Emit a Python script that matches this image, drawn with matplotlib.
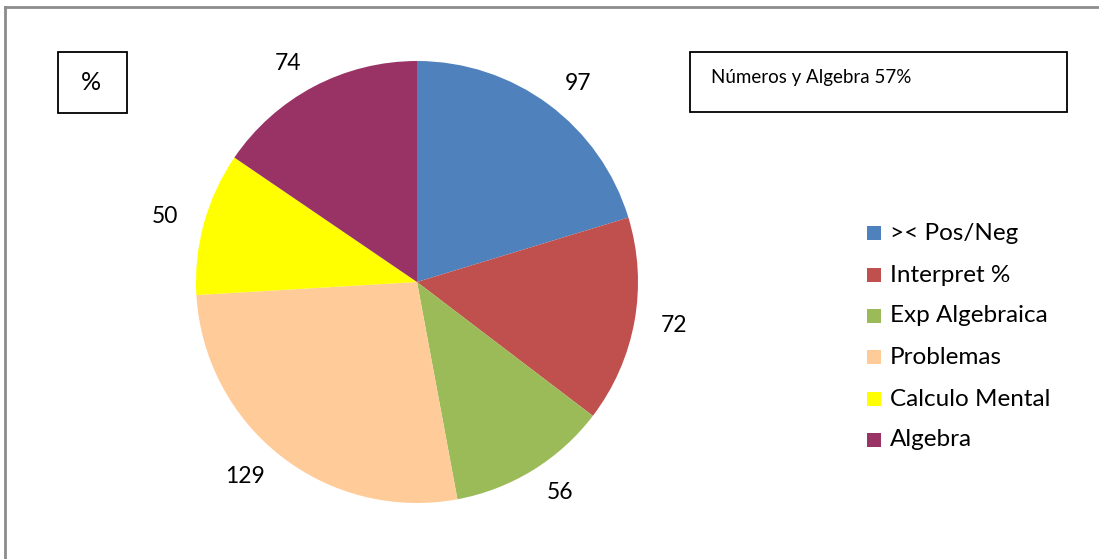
import matplotlib.pyplot as plt
from matplotlib.patches import Rectangle
from matplotlib.lines import Line2D

plt.rcParams['font.family'] = ['Lato', 'DejaVu Sans']

categories = [">< Pos/Neg", "Interpret %", "Exp Algebraica", "Problemas", "Calculo Mental", "Algebra"]
values = [97, 72, 56, 129, 50, 74]
colors = ["#4F81BD", "#C0504D", "#9BBB59", "#FFCC99", "#FFFF00", "#993366"]

W, H = 1099, 559
fig = plt.figure(figsize=(W / 100, H / 100), dpi=100)

# outer gray frame (only top and left edges visible)
fig.add_artist(Line2D([5 / W, 5 / W], [0, 1 - 7 / H], color="#8c8c8c", lw=2))
fig.add_artist(Line2D([5 / W, 1], [1 - 7 / H, 1 - 7 / H], color="#8c8c8c", lw=2))

cx, cy, r = 417, 282, 221
ax = fig.add_axes([(cx - r) / W, (H - cy - r) / H, 2 * r / W, 2 * r / H])
wedges, texts = ax.pie(values, colors=colors, startangle=90, counterclock=False,
                       labels=[str(v) for v in values], labeldistance=1.12,
                       textprops={"fontsize": 16.5, "color": "black"})
ax.set_xlim(-1, 1)
ax.set_ylim(-1, 1)
ax.set_aspect("equal")
ax.axis("off")

# "%" box
fig.add_artist(Rectangle((58 / W, 1 - 113 / H), 69 / W, 61 / H, transform=fig.transFigure,
                         fill=False, ec="black", lw=1.3))
fig.text(91 / W, 1 - 83 / H, "%", fontsize=18, ha="center", va="center")

# title box
fig.add_artist(Rectangle((690 / W, 1 - 112 / H), 377 / W, 60 / H, transform=fig.transFigure,
                         fill=False, ec="black", lw=1.3))
fig.text(711 / W, 1 - 78 / H, "Números y Algebra 57%", fontsize=13.5, ha="left", va="center")

# legend
ys = [233, 275, 316, 357, 399, 440]
for lab, col, y in zip(categories, colors, ys):
    fig.add_artist(Rectangle((867 / W, 1 - (y + 7) / H), 14 / W, 14 / H,
                             transform=fig.transFigure, fc=col, ec="none"))
    fig.text(890 / W, 1 - y / H, lab, fontsize=17.5, ha="left", va="center")

fig.savefig("out.png", dpi=100)
